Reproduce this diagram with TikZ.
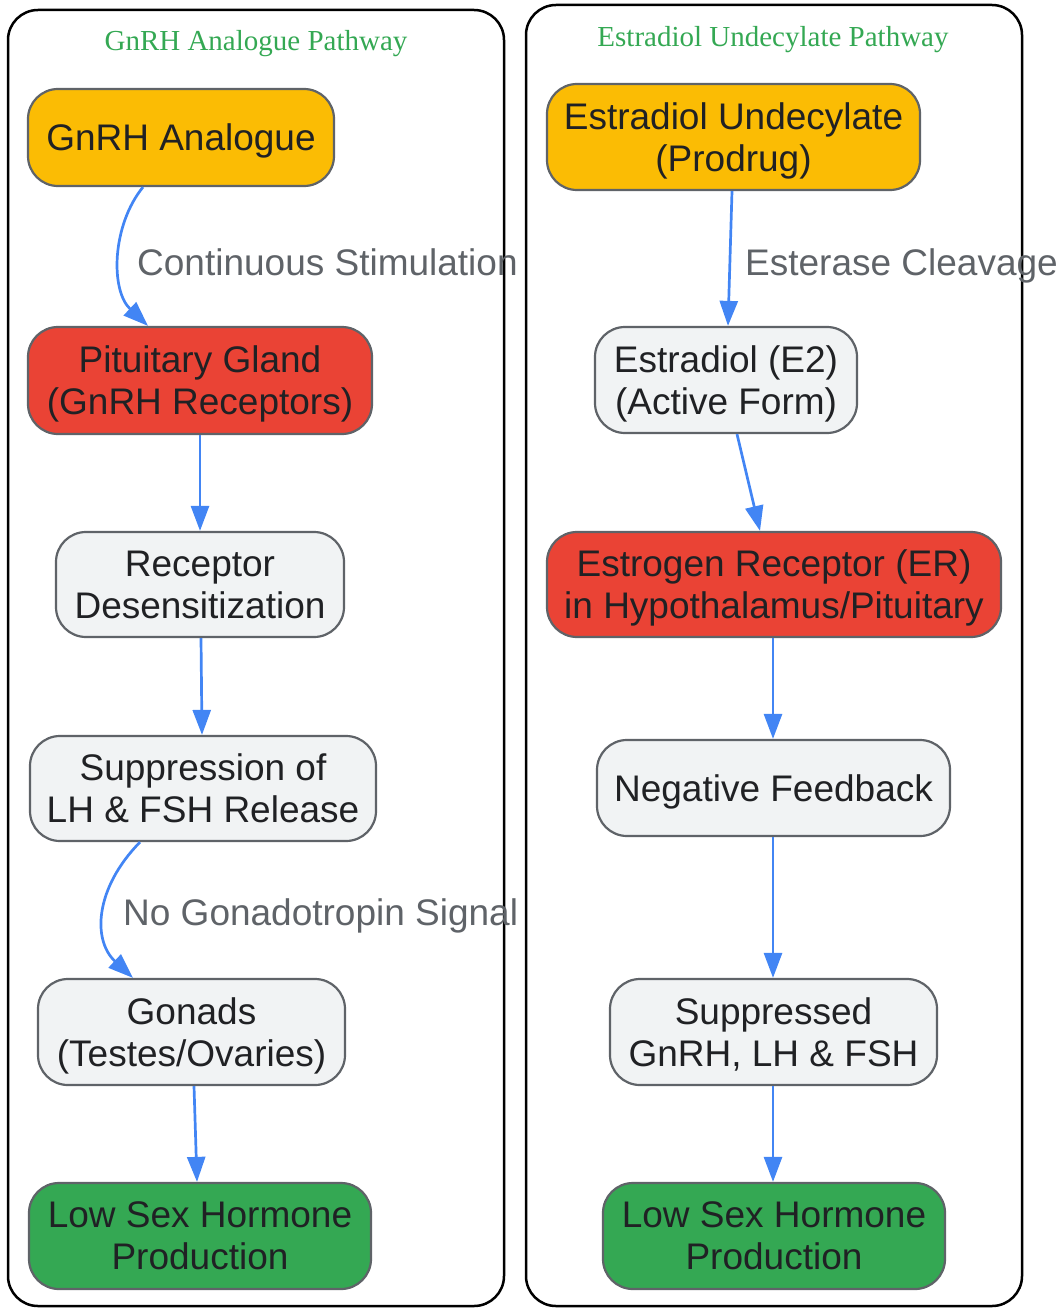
\documentclass[tikz,border=0pt]{standalone}
\usepackage{fontspec}
\setmainfont{Liberation Sans}
\newfontfamily\titleserif{Liberation Serif}
\usetikzlibrary{arrows.meta,calc}
\definecolor{cyel}{HTML}{FBBC04}
\definecolor{cred}{HTML}{EA4335}
\definecolor{cgrn}{HTML}{34A853}
\definecolor{cgry}{HTML}{F1F3F4}
\definecolor{cbrd}{HTML}{5F6368}
\definecolor{ctxt}{HTML}{202124}
\definecolor{cblue}{HTML}{4285F4}
\definecolor{clab}{HTML}{5F6368}
\tikzset{
  cluster/.style={draw=black, line width=2.5pt, rounded corners=30pt},
  ctitle/.style={text=cgrn, font=\titleserif\fontsize{29}{33}\selectfont, inner sep=0pt, text depth=0pt},
  nbox/.style={draw=cbrd, line width=2.2pt, rounded corners=30pt, align=center, inner sep=0pt,
    text=ctxt, text depth=-4pt, font=\fontsize{37}{42}\selectfont},
  yel/.style={nbox, fill=cyel},
  red/.style={nbox, fill=cred},
  grn/.style={nbox, fill=cgrn},
  gry/.style={nbox, fill=cgry},
  conn/.style={draw=cblue, line width=2.7pt, -{Triangle[length=25pt,width=18pt]}},
  elab/.style={text=clab, anchor=west, inner sep=0pt, text depth=0pt, font=\fontsize{37}{42}\selectfont},
}
\begin{document}
\begin{tikzpicture}[x=1pt,y=-1pt]
\useasboundingbox (0,0) rectangle (1061,1308);
% clusters
\draw[cluster] (8,10) rectangle (504,1306);
\draw[cluster] (526,5) rectangle (1022,1306);
\node[ctitle] (t1) at (256,40) {GnRH Analogue Pathway};
\node[ctitle] (t2) at (773,36) {Estradiol Undecylate Pathway};
% left nodes
\node[yel, minimum width=306pt, minimum height=97pt] (a1) at (181,137.5) {GnRH Analogue};
\node[red, minimum width=344pt, minimum height=107pt] (a2) at (200,380.5) {Pituitary Gland\\(GnRH Receptors)};
\node[gry, minimum width=288pt, minimum height=105pt] (a3) at (200,584.5) {Receptor\\Desensitization};
\node[gry, minimum width=346pt, minimum height=105pt] (a4) at (203,788.5) {Suppression of\\LH \& FSH Release};
\node[gry, minimum width=307pt, minimum height=106pt] (a5) at (191.5,1032) {Gonads\\(Testes/Ovaries)};
\node[grn, minimum width=342pt, minimum height=106pt] (a6) at (200,1236) {Low Sex Hormone\\Production};
% right nodes
\node[yel, minimum width=373pt, minimum height=106pt] (b1) at (733.5,137) {Estradiol Undecylate\\(Prodrug)};
\node[gry, minimum width=262pt, minimum height=106pt] (b2) at (726,380) {Estradiol (E2)\\(Active Form)};
\node[red, minimum width=454pt, minimum height=105pt] (b3) at (774,584.5) {Estrogen Receptor (ER)\\in Hypothalamus/Pituitary};
\node[gry, minimum width=353pt, minimum height=96pt] (b4) at (773.5,788) {Negative Feedback};
\node[gry, minimum width=327pt, minimum height=106pt] (b5) at (773.5,1032) {Suppressed\\GnRH, LH \& FSH};
\node[grn, minimum width=342pt, minimum height=106pt] (b6) at (774,1236) {Low Sex Hormone\\Production};
% left connectors
\draw[conn] ($(a1.south)+(-38,0)$) .. controls (112,225) and (110,290) .. ($(a2.north)+(-52,0)$);
\node[elab] (l1) at (137,262) {Continuous Stimulation};
\draw[conn] (a2.south) -- (a3.north);
\draw[conn] ($(a3.south)+(1,0)$) -- ($(a4.north)+(-1,0)$);
\draw[conn] ($(a4.south)+(-63,0)$) .. controls (95,888) and (92,940) .. ($(a5.north)+(-58.5,0)$);
\node[elab] (l2) at (123,912) {No Gonadotropin Signal};
\draw[conn] ($(a5.south)+(2.5,0)$) -- ($(a6.north)+(-3,0)$);
% right connectors
\draw[conn] ($(b1.south)+(-1.5,0)$) -- ($(b2.north)+(2,0)$);
\node[elab] (l3) at (745,262) {Esterase Cleavage};
\draw[conn] ($(b2.south)+(11,0)$) -- ($(b3.north)+(-14,0)$);
\draw[conn] ($(b3.south)+(-1,0)$) -- ($(b4.north)+(-0.5,0)$);
\draw[conn] ($(b4.south)+(-0.5,0)$) -- ($(b5.north)+(-0.5,0)$);
\draw[conn] ($(b5.south)+(-0.5,0)$) -- ($(b6.north)+(-1,0)$);
\end{tikzpicture}
\end{document}
